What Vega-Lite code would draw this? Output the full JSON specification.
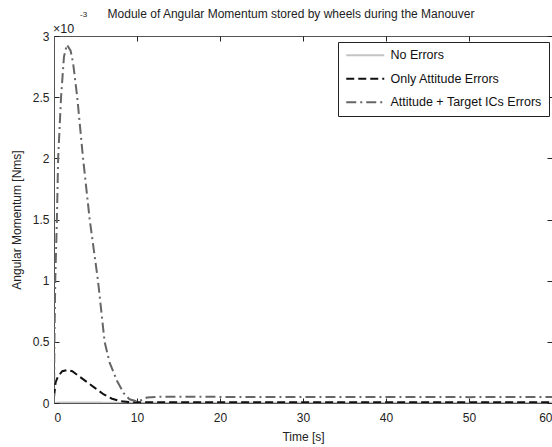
{
  "$schema": "https://vega.github.io/schema/vega-lite/v6.json",
  "width": 498,
  "height": 367,
  "autosize": "none",
  "padding": {"left": 54, "top": 36, "right": 0, "bottom": 44},
  "background": "white",
  "title": {
    "text": "Module of Angular Momentum stored by wheels during the Manouver",
    "frame": "group",
    "anchor": "middle",
    "dx": -12,
    "offset": -10,
    "fontSize": 12,
    "fontWeight": "normal",
    "font": "Liberation Sans",
    "color": "#222"
  },
  "config": {
    "font": "Liberation Sans",
    "view": {"stroke": "#555", "strokeWidth": 1},
    "axis": {
      "grid": false,
      "labelFont": "Liberation Sans",
      "labelFontSize": 12,
      "labelColor": "#222",
      "titleFont": "Liberation Sans",
      "titleFontSize": 12,
      "titleFontWeight": "normal",
      "titleColor": "#222",
      "domainColor": "#555",
      "tickColor": "#222",
      "tickSize": -5,
      "labelPadding": 10
    },
    "legend": {
      "title": null,
      "orient": "none",
      "legendX": 284,
      "legendY": 6,
      "fillColor": "white",
      "strokeColor": "#222",
      "padding": 7,
      "symbolType": "M-1,0H6.6",
      "symbolSize": 100,
      "symbolStrokeWidth": 2,
      "labelOffset": 33,
      "labelFontSize": 12.5,
      "labelColor": "#111",
      "labelFont": "Liberation Sans",
      "rowPadding": 10.5
    }
  },
  "data": {
    "values": [
      {"t": 0, "series": "No Errors", "v": 0.0},
      {"t": 0.5, "series": "No Errors", "v": 0.004},
      {"t": 2, "series": "No Errors", "v": 0.004},
      {"t": 10, "series": "No Errors", "v": 0.002},
      {"t": 30, "series": "No Errors", "v": 0.002},
      {"t": 60, "series": "No Errors", "v": 0.002},

      {"t": 0, "series": "Only Attitude Errors", "v": 0.05},
      {"t": 0.2, "series": "Only Attitude Errors", "v": 0.17},
      {"t": 0.5, "series": "Only Attitude Errors", "v": 0.22},
      {"t": 1.0, "series": "Only Attitude Errors", "v": 0.26},
      {"t": 1.6, "series": "Only Attitude Errors", "v": 0.27},
      {"t": 2.2, "series": "Only Attitude Errors", "v": 0.26},
      {"t": 3.0, "series": "Only Attitude Errors", "v": 0.22},
      {"t": 4.0, "series": "Only Attitude Errors", "v": 0.17},
      {"t": 5.0, "series": "Only Attitude Errors", "v": 0.12},
      {"t": 6.0, "series": "Only Attitude Errors", "v": 0.07},
      {"t": 7.0, "series": "Only Attitude Errors", "v": 0.035},
      {"t": 8.0, "series": "Only Attitude Errors", "v": 0.015},
      {"t": 9.0, "series": "Only Attitude Errors", "v": 0.008},
      {"t": 10.0, "series": "Only Attitude Errors", "v": 0.006},
      {"t": 20.0, "series": "Only Attitude Errors", "v": 0.007},
      {"t": 30.0, "series": "Only Attitude Errors", "v": 0.006},
      {"t": 40.0, "series": "Only Attitude Errors", "v": 0.007},
      {"t": 50.0, "series": "Only Attitude Errors", "v": 0.006},
      {"t": 60.0, "series": "Only Attitude Errors", "v": 0.006},

      {"t": 0, "series": "Attitude + Target ICs Errors", "v": 0.0},
      {"t": 0.05, "series": "Attitude + Target ICs Errors", "v": 0.5},
      {"t": 0.15, "series": "Attitude + Target ICs Errors", "v": 1.0},
      {"t": 0.35, "series": "Attitude + Target ICs Errors", "v": 1.5},
      {"t": 0.5, "series": "Attitude + Target ICs Errors", "v": 2.0},
      {"t": 0.85, "series": "Attitude + Target ICs Errors", "v": 2.5},
      {"t": 1.2, "series": "Attitude + Target ICs Errors", "v": 2.83},
      {"t": 1.55, "series": "Attitude + Target ICs Errors", "v": 2.93},
      {"t": 2.0, "series": "Attitude + Target ICs Errors", "v": 2.88},
      {"t": 2.3, "series": "Attitude + Target ICs Errors", "v": 2.78},
      {"t": 2.8, "series": "Attitude + Target ICs Errors", "v": 2.5},
      {"t": 3.5, "series": "Attitude + Target ICs Errors", "v": 2.0},
      {"t": 4.3, "series": "Attitude + Target ICs Errors", "v": 1.5},
      {"t": 5.3, "series": "Attitude + Target ICs Errors", "v": 1.0},
      {"t": 6.1, "series": "Attitude + Target ICs Errors", "v": 0.5},
      {"t": 6.7, "series": "Attitude + Target ICs Errors", "v": 0.33},
      {"t": 7.6, "series": "Attitude + Target ICs Errors", "v": 0.18},
      {"t": 8.4, "series": "Attitude + Target ICs Errors", "v": 0.08},
      {"t": 9.1, "series": "Attitude + Target ICs Errors", "v": 0.03},
      {"t": 10.0, "series": "Attitude + Target ICs Errors", "v": 0.012},
      {"t": 10.6, "series": "Attitude + Target ICs Errors", "v": 0.025},
      {"t": 11.2, "series": "Attitude + Target ICs Errors", "v": 0.045},
      {"t": 13.0, "series": "Attitude + Target ICs Errors", "v": 0.052},
      {"t": 20.0, "series": "Attitude + Target ICs Errors", "v": 0.05},
      {"t": 30.0, "series": "Attitude + Target ICs Errors", "v": 0.048},
      {"t": 40.0, "series": "Attitude + Target ICs Errors", "v": 0.05},
      {"t": 50.0, "series": "Attitude + Target ICs Errors", "v": 0.048},
      {"t": 60.0, "series": "Attitude + Target ICs Errors", "v": 0.05}
    ]
  },
  "layer": [
    {
      "mark": {"type": "line", "strokeWidth": 2, "clip": true},
      "encoding": {
        "x": {
          "field": "t",
          "type": "quantitative",
          "scale": {"domain": [0, 60], "nice": false, "zero": false},
          "axis": {"title": "Time [s]", "values": [0, 10, 20, 30, 40, 50, 60], "labelPadding": 14, "titlePadding": 8}
        },
        "y": {
          "field": "v",
          "type": "quantitative",
          "scale": {"domain": [0, 3], "nice": false},
          "axis": {"title": "Angular Momentum [Nms]", "values": [0, 0.5, 1, 1.5, 2, 2.5, 3], "format": "~g", "titlePadding": 9}
        },
        "detail": {"field": "series"},
        "color": {
          "field": "series",
          "type": "nominal",
          "sort": ["No Errors", "Only Attitude Errors", "Attitude + Target ICs Errors"],
          "scale": {
            "domain": ["No Errors", "Only Attitude Errors", "Attitude + Target ICs Errors"],
            "range": ["#c4c4c4", "#111111", "#666666"]
          },
          "legend": {"title": null}
        },
        "strokeDash": {
          "field": "series",
          "type": "nominal",
          "sort": ["No Errors", "Only Attitude Errors", "Attitude + Target ICs Errors"],
          "scale": {
            "domain": ["No Errors", "Only Attitude Errors", "Attitude + Target ICs Errors"],
            "range": [[1, 0], [8, 4], [10, 4, 2, 4]]
          },
          "legend": {"title": null}
        }
      }
    },
    {
      "mark": {"type": "line", "opacity": 0},
      "encoding": {
        "x": {
          "field": "t",
          "type": "quantitative",
          "axis": {"orient": "top", "title": null, "labels": false, "domain": false, "values": [0, 10, 20, 30, 40, 50, 60]}
        },
        "y": {
          "field": "v",
          "type": "quantitative",
          "axis": {"orient": "right", "title": null, "labels": false, "domain": false, "values": [0, 0.5, 1, 1.5, 2, 2.5, 3]}
        },
        "detail": {"field": "series"}
      }
    },
    {
      "data": {"values": [{"part": "×10"}]},
      "mark": {"type": "text", "align": "left", "baseline": "middle", "dx": -1, "dy": -7, "fontSize": 12.5, "color": "#222", "font": "Liberation Sans"},
      "encoding": {
        "x": {"datum": 0, "type": "quantitative", "axis": null},
        "y": {"datum": 3, "type": "quantitative", "axis": null},
        "text": {"field": "part"}
      }
    },
    {
      "data": {"values": [{"part": "-3"}]},
      "mark": {"type": "text", "align": "left", "baseline": "middle", "dx": 26, "dy": -21, "fontSize": 8, "color": "#222", "font": "Liberation Sans"},
      "encoding": {
        "x": {"datum": 0, "type": "quantitative", "axis": null},
        "y": {"datum": 3, "type": "quantitative", "axis": null},
        "text": {"field": "part"}
      }
    }
  ],
  "resolve": {"axis": {"x": "independent", "y": "independent"}}
}
